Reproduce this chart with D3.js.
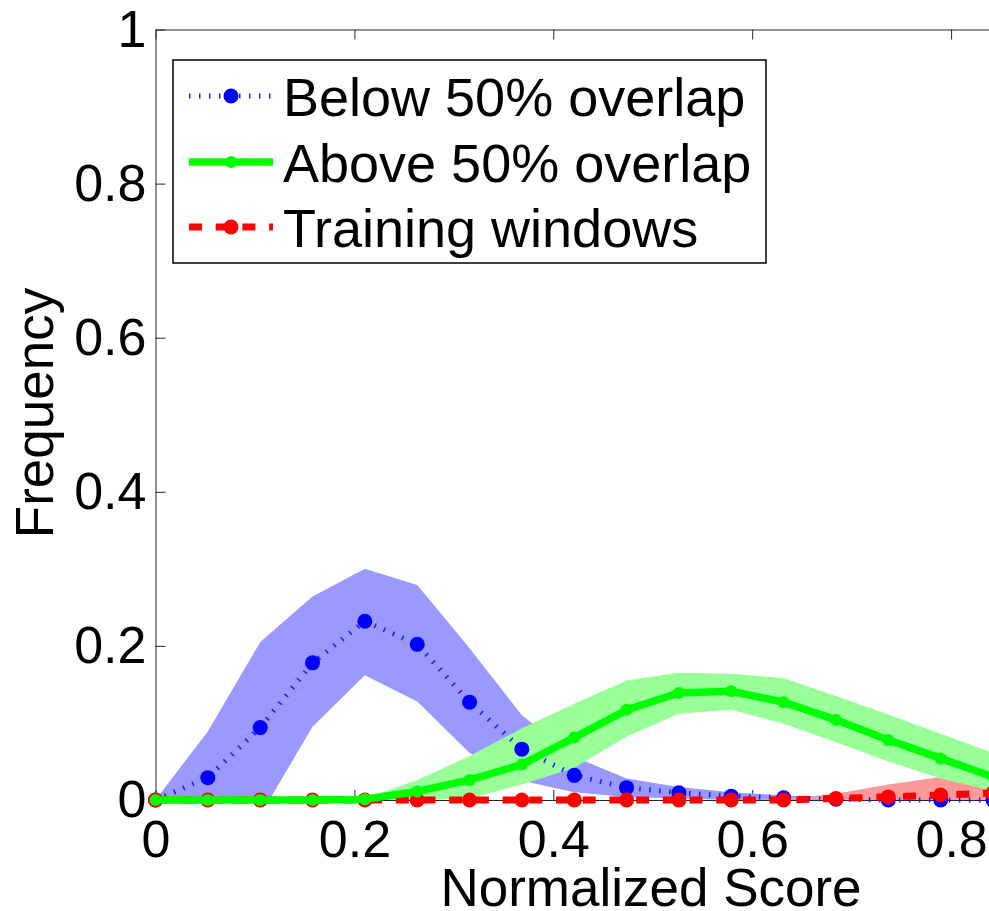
<!DOCTYPE html>
<html>
<head>
<meta charset="utf-8">
<script src="https://cdn.jsdelivr.net/npm/d3@7"></script>
<style>
  body { margin: 0; background: #fff; }
  text { font-family: "Liberation Sans", Arial, sans-serif; fill: #000; }
</style>
</head>
<body>
<div class="canvas"></div>
<script>
// bin centres (normalized score)
const scores = [0, 0.0526, 0.1053, 0.1579, 0.2105, 0.2632, 0.3158, 0.3684, 0.4211,
    0.4737, 0.5263, 0.5789, 0.6316, 0.6842, 0.7368, 0.7895, 0.8421]

// below 50% overlap
const belowMean = [0, 0.029, 0.094, 0.178, 0.232, 0.202, 0.127, 0.066, 0.032,
    0.016, 0.0095, 0.005, 0.003, 0.001, 0, 0, 0]
const belowLow = [0, -0.03, -0.02, 0.095, 0.162, 0.128, 0.061, 0.025, 0.010,
    0.004, 0.002, 0, 0, 0, 0, 0, 0]
const belowHigh = [0, 0.089, 0.205, 0.264, 0.300, 0.279, 0.197, 0.110, 0.056,
    0.028, 0.017, 0.010, 0.006, 0.003, 0.001, 0.001, 0]

// above 50% overlap
const aboveMean = [0, 0, 0, 0, 0.001, 0.011, 0.026, 0.046, 0.081,
    0.117, 0.139, 0.141, 0.127, 0.104, 0.078, 0.054, 0.030]
const aboveLow = [0, 0, 0, 0, 0, 0, 0.002, 0.02, 0.042,
    0.082, 0.112, 0.117, 0.099, 0.075, 0.050, 0.028, 0.012]
const aboveHigh = [0, 0, 0, 0, 0.002, 0.026, 0.057, 0.093, 0.125,
    0.155, 0.165, 0.164, 0.158, 0.135, 0.111, 0.086, 0.061]

// training windows
const trainMean = [0, 0, 0, 0, 0, 0, 0, 0, 0,
    0, 0, 0, 0, 0.002, 0.004, 0.0065, 0.009]
const trainLow = [0, 0, 0, 0, 0, 0, 0, 0, 0,
    0, 0, 0, 0, 0, 0, 0, 0]
const trainHigh = [0, 0, 0, 0, 0, 0, 0, 0, 0,
    0, 0, 0, 0.001, 0.008, 0.020, 0.030, 0.035]

const yTicks = [0, 0.2, 0.4, 0.6, 0.8, 1]
const xTicks = [0, 0.2, 0.4, 0.6, 0.8, 1]
const legendLabels = ['Below 50% overlap', 'Above 50% overlap', 'Training windows']

const width = 989
const height = 911
const tickFont = 52
const labelFont = 53
const legendFont = 54

const svg = d3.select('.canvas')
    .append('svg')
    .attr('width', width)
    .attr('height', height)
    .style('display', 'block')

// plot box (x runs past the right edge of the picture)
const box = {left: 155.5, right: 1150, top: 29.5, bottom: 800}

const x = d3.scaleLinear().domain([0, 1]).range([box.left, box.right])
const y = d3.scaleLinear().domain([0, 1]).range([box.bottom, box.top])

svg.append('defs').append('clipPath')
    .attr('id', 'plotclip')
    .append('rect')
    .attr('x', box.left).attr('y', box.top)
    .attr('width', box.right - box.left).attr('height', box.bottom - box.top)

// axes with inward ticks
const fmt = d3.format('~g')
const xAxisGroup = svg.append('g').attr('transform', `translate(0, ${box.bottom})`)
const yAxisGroup = svg.append('g').attr('transform', `translate(${box.left}, 0)`)
const topGroup = svg.append('g').attr('transform', `translate(0, ${box.top})`)

xAxisGroup.call(d3.axisBottom(x).tickValues(xTicks).tickFormat(fmt)
    .tickSizeInner(-10).tickSizeOuter(0).tickPadding(20))
yAxisGroup.call(d3.axisLeft(y).tickValues(yTicks).tickFormat(fmt)
    .tickSizeInner(-10).tickSizeOuter(0).tickPadding(9))
topGroup.call(d3.axisTop(x).tickValues(xTicks).tickFormat('')
    .tickSizeInner(-10).tickSizeOuter(0))

svg.selectAll('.domain, .tick line').attr('stroke', '#262626').attr('stroke-width', 1)
svg.selectAll('.tick text')
    .attr('font-size', tickFont)
    .attr('font-family', '"Liberation Sans", Arial, sans-serif')
    .attr('fill', '#000')

// shaded bands
const bands = [
    {lo: belowLow, hi: belowHigh, fill: '#9999ff'},
    {lo: trainLow, hi: trainHigh, fill: '#ff9999'},
    {lo: aboveLow, hi: aboveHigh, fill: '#99ff99'}
]
const area = d3.area()
    .x(d => x(d.s))
    .y0(d => y(d.lo))
    .y1(d => y(d.hi))

const bandGroup = svg.append('g').attr('clip-path', 'url(#plotclip)')
bands.forEach(b => {
    const rows = scores.map((s, i) => ({s: s, lo: b.lo[i], hi: b.hi[i]}))
    bandGroup.append('path')
        .attr('d', area(rows))
        .attr('fill', b.fill)
})

// mean lines with markers
const series = [
    {vals: belowMean, color: '#0000ff', lineColor: '#1a1aff', width: 5, dash: '1.5,8.5', r: 7.5},
    {vals: trainMean, color: '#ff0000', lineColor: '#ff0000', width: 7, dash: '13,13.7', r: 7.5},
    {vals: aboveMean, color: '#00ff00', lineColor: '#00ff00', width: 7.5, dash: null, r: 6}
]
const line = d3.line().x(d => x(d.s)).y(d => y(d.v))

series.forEach(sr => {
    const rows = scores.map((s, i) => ({s: s, v: sr.vals[i]}))
    svg.append('path')
        .attr('d', line(rows))
        .attr('fill', 'none')
        .attr('stroke', sr.lineColor)
        .attr('stroke-width', sr.width)
        .attr('stroke-dasharray', sr.dash)
    svg.append('g').selectAll('circle')
        .data(rows)
        .enter()
        .append('circle')
        .attr('cx', d => x(d.s))
        .attr('cy', d => y(d.v))
        .attr('r', sr.r)
        .attr('fill', sr.color)
})

// axis labels
svg.append('text')
    .attr('x', 651)
    .attr('y', 906)
    .attr('text-anchor', 'middle')
    .attr('font-size', labelFont)
    .text('Normalized Score')

svg.append('text')
    .attr('transform', 'translate(53, 413) rotate(-90)')
    .attr('text-anchor', 'middle')
    .attr('font-size', labelFont)
    .text('Frequency')

// legend
const legend = svg.append('g')
legend.append('rect')
    .attr('x', 173).attr('y', 60)
    .attr('width', 593).attr('height', 203)
    .attr('fill', '#fff')
    .attr('stroke', '#000')
    .attr('stroke-width', 1.5)

const legendRows = [
    {label: legendLabels[0], s: series[0], cy: 96},
    {label: legendLabels[1], s: series[2], cy: 162},
    {label: legendLabels[2], s: series[1], cy: 227}
]
legendRows.forEach(row => {
    legend.append('line')
        .attr('x1', 189).attr('x2', 273)
        .attr('y1', row.cy).attr('y2', row.cy)
        .attr('stroke', row.s.lineColor)
        .attr('stroke-width', row.s.width)
        .attr('stroke-dasharray', row.s.dash)
    legend.append('circle')
        .attr('cx', 231).attr('cy', row.cy)
        .attr('r', row.s.r)
        .attr('fill', row.s.color)
    legend.append('text')
        .attr('x', 283)
        .attr('y', row.cy + 19.5)
        .attr('font-size', legendFont)
        .text(row.label)
})
</script>
</body>
</html>
